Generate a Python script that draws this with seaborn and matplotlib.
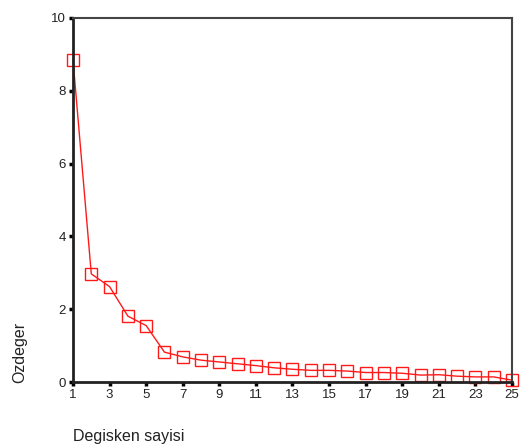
import numpy as np
import pandas as pd
import matplotlib
matplotlib.use('Agg')
import matplotlib.pyplot as plt
import seaborn as sns

# scree plot values
component = list(range(1, 26))
eigenvalue = [8.85, 2.97, 2.62, 1.81, 1.55, 0.82, 0.69, 0.60, 0.55, 0.50,
              0.45, 0.39, 0.35, 0.32, 0.32, 0.30, 0.26, 0.26, 0.24, 0.19,
              0.20, 0.16, 0.14, 0.14, 0.05]
x_ticks = list(range(1, 26, 2))
y_ticks = [0, 2, 4, 6, 8, 10]

df = pd.DataFrame({'Degisken sayisi': component, 'Ozdeger': eigenvalue})

sns.set_style('white')
plt.rcParams['font.family'] = ['Liberation Sans', 'DejaVu Sans']

fig = plt.figure(figsize=(5.23, 4.44), dpi=100)
ax = fig.add_axes([73 / 523, 1 - 382 / 444, (512 - 73) / 523, (382 - 18) / 444])

sns.lineplot(x='Degisken sayisi', y='Ozdeger', data=df, ax=ax, color='#ff1a1a',
             linewidth=1.0, marker='s', markersize=8, markerfacecolor='none',
             markeredgecolor='#ff1a1a', markeredgewidth=1.0, clip_on=False)

ax.set_xlim(1, 25)
ax.set_ylim(0, 10)
ax.set_xticks(x_ticks)
ax.set_yticks(y_ticks)
ax.tick_params(axis='both', bottom=True, left=True, direction='out', length=3,
               width=2.5, colors='black', labelsize=9.5, labelcolor='#222222', pad=2)
for side in ['left', 'bottom']:
    ax.spines[side].set_linewidth(2.0)
    ax.spines[side].set_color('#222222')
for side in ['top', 'right']:
    ax.spines[side].set_linewidth(1.5)
    ax.spines[side].set_color('#444444')
ax.set_xlabel('')
ax.set_ylabel('')

fig.text(73 / 523, 1 - 436 / 444, 'Degisken sayisi', fontsize=11.5,
         ha='left', va='center', color='#222222')
fig.text(20 / 523, 1 - 352 / 444, 'Ozdeger', fontsize=11.5, rotation=90,
         ha='center', va='center', color='#222222')

fig.savefig('out.png', dpi=100)
